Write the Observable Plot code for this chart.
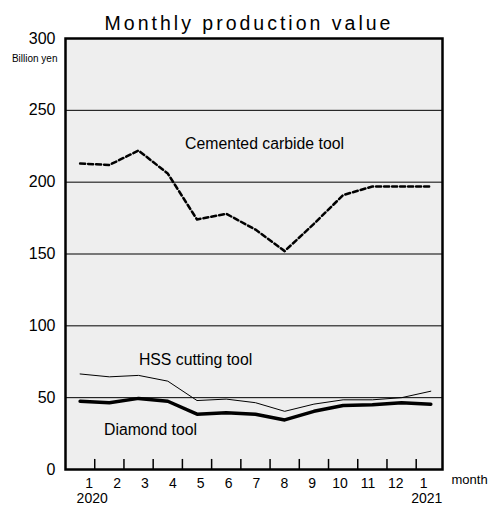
<!DOCTYPE html>
<html><head><meta charset="utf-8">
<script src="https://cdn.jsdelivr.net/npm/d3@7"></script>
<script src="https://cdn.jsdelivr.net/npm/@observablehq/plot@0.6"></script>
<style>body{margin:0;background:#fff;font-family:"Liberation Sans",Arial,sans-serif}</style>
</head><body><div id="chart"></div>
<script>
const title = "Monthly production value";
const unitLabel = "Billion yen";
const xAxisLabel = "month";
const months = ["1","2","3","4","5","6","7","8","9","10","11","12","1"];
const years = [{i:0, label:"2020"}, {i:12, label:"2021"}];
const carbide = [213,212,222,206,174,178,167,152,171,191,197,197,197];
const hss = [66.5,64.5,65.5,61.5,48,49,46.5,40.5,45.5,48.5,48.5,50,54.5];
const diamond = [47.5,46.5,49.5,47.5,38.5,39.5,38.5,34.5,40.5,44.5,45,46.5,45.5];
const yTicks = [0,50,100,150,200,250,300];
const gridValues = [50,100,150,200,250];
const seriesLabels = [
  {name:"Cemented carbide tool", i:6.31, v:226.5},
  {name:"HSS cutting tool", i:3.95, v:76},
  {name:"Diamond tool", i:2.41, v:27.5}
];

const idx = months.map((_, i) => i);
const mid = idx.slice(0, -1).map(i => i + 0.5);
const labelX = i => 0.31 + i * 0.954;

const plot = Plot.plot({
  width: 488, height: 506,
  marginLeft: 65, marginRight: 46, marginTop: 38, marginBottom: 37,
  style: {fontFamily: "'Liberation Sans', Arial, sans-serif", background: "#fff", overflow: "visible"},
  x: {domain: [-0.5, 12.4], axis: null},
  y: {domain: [0, 300], axis: null},
  marks: [
    Plot.frame({fill: "#eeeeee", stroke: null}),
    Plot.ruleY(gridValues, {stroke: "#000", strokeWidth: 1}),
    Plot.ruleX(mid, {y1: 0, y2: 7, stroke: "#000", strokeWidth: 1.5}),
    Plot.line(idx, {x: i => i, y: i => hss[i], stroke: "#000", strokeWidth: 1}),
    Plot.line(idx, {x: i => i, y: i => diamond[i], stroke: "#000", strokeWidth: 3.5, strokeLinejoin: "round"}),
    Plot.line(idx, {x: i => i, y: i => carbide[i], stroke: "#000", strokeWidth: 2.5, strokeDasharray: "5,3"}),
    Plot.frame({stroke: "#000", strokeWidth: 2.5}),
    Plot.axisY(yTicks, {tickSize: 0, tickPadding: 10, fontSize: 16, color: "#000", label: null}),
    Plot.text(seriesLabels, {x: "i", y: "v", text: "name", fontSize: 15.8, fill: "#000"}),
    Plot.text(months, {x: (d, i) => labelX(i), y: () => 0, text: d => d, dy: 14, fontSize: 14, fill: "#000"}),
    Plot.text(years, {x: d => labelX(d.i), y: () => 0, text: "label", dx: 3, dy: 29.5, fontSize: 14, fill: "#000"}),
    Plot.text([xAxisLabel], {frameAnchor: "bottom-right", textAnchor: "start", dx: 9, dy: 14, fontSize: 13, fill: "#000"}),
    Plot.text([unitLabel], {frameAnchor: "top-left", textAnchor: "end", dx: -8, dy: 16, fontSize: 10, fill: "#000"}),
    Plot.text([title], {frameAnchor: "top", dx: -5, dy: -22, fontSize: 19.5, fill: "#000", className: "ttl"})
  ]
});
d3.select(plot).selectAll(".ttl text").attr("letter-spacing", 3);
document.getElementById("chart").appendChild(plot);
</script></body></html>
